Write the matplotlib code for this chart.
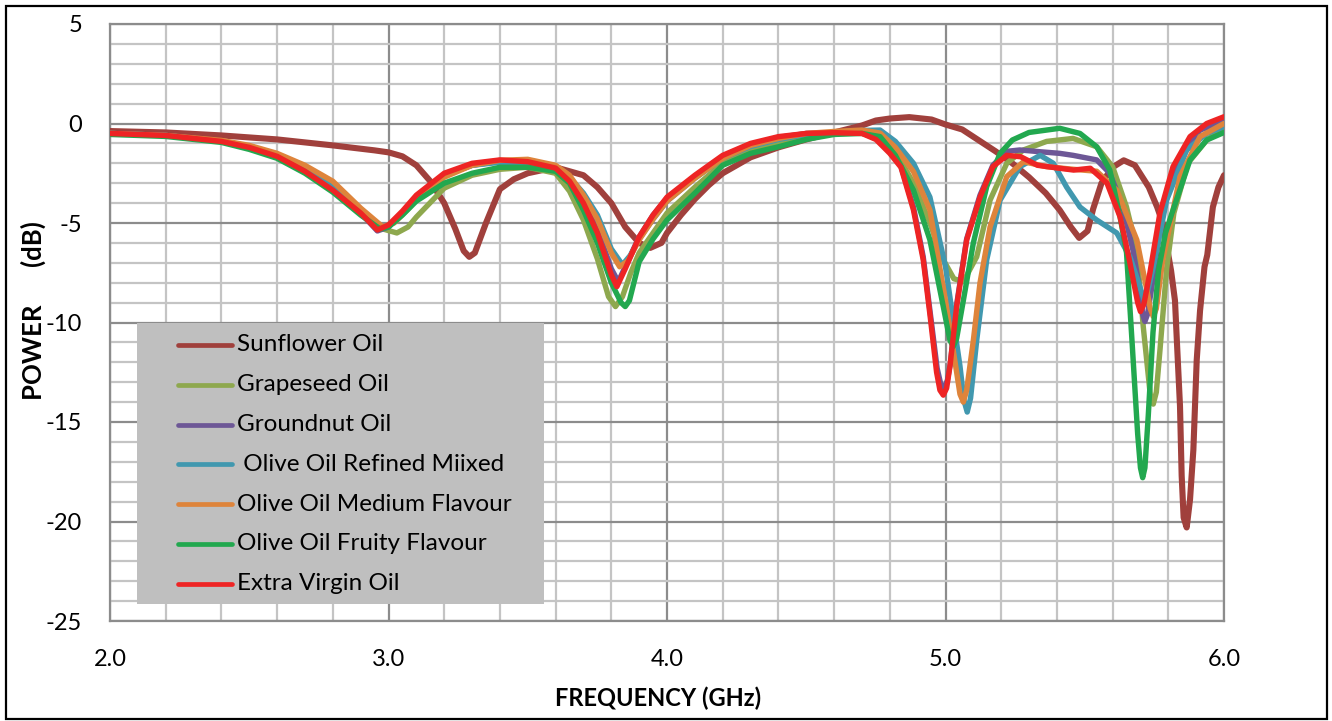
import matplotlib
matplotlib.use('Agg')
import matplotlib.pyplot as plt
from matplotlib.patches import Rectangle
from matplotlib.ticker import MultipleLocator, FormatStrFormatter

plt.rcParams['font.family'] = ['Lato', 'DejaVu Sans']
plt.rcParams['axes.unicode_minus'] = False

# frequency (GHz) / power (dB)
sun_f = [2.0, 2.2, 2.4, 2.6, 2.8, 2.95, 3.0, 3.05, 3.1, 3.15, 3.2, 3.24, 3.27, 3.29, 3.31, 3.35,
         3.4, 3.45, 3.5, 3.6, 3.7, 3.75, 3.8, 3.85, 3.9, 3.94, 3.98, 4.0, 4.05, 4.1, 4.15, 4.2,
         4.3, 4.4, 4.5, 4.6, 4.7, 4.75, 4.8, 4.87, 4.95, 5.0, 5.06, 5.12, 5.18, 5.24, 5.3, 5.36,
         5.41, 5.45, 5.48, 5.51, 5.53, 5.56, 5.6, 5.64, 5.68, 5.73, 5.76, 5.78, 5.81, 5.824, 5.83,
         5.842, 5.848, 5.855, 5.866, 5.878, 5.89, 5.902, 5.914, 5.93, 5.94, 5.96, 5.98, 6.0]
sun_db = [-0.38, -0.45, -0.6, -0.8, -1.1, -1.35, -1.45, -1.65, -2.1, -2.9, -4.0, -5.3, -6.4, -6.7, -6.5, -5.0,
          -3.3, -2.8, -2.5, -2.2, -2.6, -3.2, -4.0, -5.2, -6.0, -6.25, -6.0, -5.5, -4.6, -3.8, -3.1, -2.5,
          -1.7, -1.2, -0.8, -0.45, -0.1, 0.15, 0.25, 0.32, 0.2, -0.05, -0.3, -0.85, -1.4, -2.0, -2.7, -3.5,
          -4.35, -5.2, -5.75, -5.4, -4.3, -3.0, -2.2, -1.85, -2.1, -3.2, -4.2, -5.0, -7.4, -8.9, -10.7,
          -14.2, -17.7, -19.8, -20.3, -18.9, -16.4, -11.9, -9.4, -7.2, -6.6, -4.2, -3.2, -2.6]

grape_f = [2.0, 2.2, 2.4, 2.5, 2.6, 2.7, 2.8, 2.9, 2.98, 3.03, 3.07, 3.1, 3.2, 3.3, 3.4, 3.5, 3.6,
           3.65, 3.7, 3.75, 3.79, 3.815, 3.84, 3.87, 3.9, 3.95, 4.0, 4.1, 4.2, 4.3, 4.4, 4.5, 4.6,
           4.7, 4.765, 4.82, 4.885, 4.944, 4.99, 5.03, 5.064, 5.112, 5.16, 5.22, 5.28, 5.363,
           5.458, 5.543, 5.6, 5.65, 5.687, 5.71, 5.735, 5.746, 5.757, 5.77, 5.794, 5.82, 5.87, 5.94, 6.0]
grape_db = [-0.5, -0.6, -0.9, -1.15, -1.55, -2.2, -3.0, -4.3, -5.3, -5.5, -5.2, -4.7, -3.25, -2.6, -2.3, -2.2, -2.5,
            -3.4, -4.85, -6.8, -8.7, -9.2, -8.7, -7.5, -6.5, -5.5, -4.5, -3.2, -2.0, -1.4, -1.0, -0.7, -0.5,
            -0.45, -0.6, -1.4, -3.0, -5.0, -6.8, -7.8, -7.95, -6.7, -3.85, -2.0, -1.33, -0.9,
            -0.75, -1.17, -2.17, -4.2, -6.35, -10.2, -13.6, -14.1, -13.5, -11.4, -7.3, -4.5, -2.0, -0.8, -0.2]

ground_f = [2.0, 2.2, 2.4, 2.5, 2.6, 2.7, 2.8, 2.9, 2.96, 3.0, 3.05, 3.1, 3.2, 3.3, 3.4, 3.5, 3.6,
            3.65, 3.7, 3.75, 3.8, 3.825, 3.85, 3.9, 3.95, 4.0, 4.1, 4.2, 4.3, 4.4, 4.5, 4.6, 4.7,
            4.75, 4.8, 4.84, 4.885, 4.92, 4.945, 4.97, 4.983, 4.995, 5.007, 5.018, 5.04, 5.076, 5.124, 5.17,
            5.22, 5.267, 5.34, 5.41, 5.458, 5.543, 5.59, 5.637, 5.673, 5.698, 5.708, 5.716, 5.725, 5.74, 5.78,
            5.842, 5.914, 6.0]
ground_db = [-0.5, -0.6, -0.9, -1.2, -1.65, -2.4, -3.35, -4.5, -5.4, -5.2, -4.5, -3.7, -2.6, -2.1, -1.9, -2.0, -2.3,
             -2.9, -3.9, -5.3, -7.3, -7.95, -7.2, -5.7, -4.6, -3.75, -2.65, -1.65, -1.05, -0.7, -0.5, -0.46, -0.48,
             -0.75, -1.45, -2.15, -4.2, -6.7, -9.5, -12.3, -13.1, -13.3, -12.9, -12.0, -9.1, -5.8, -3.6, -2.1,
             -1.4, -1.33, -1.42, -1.5, -1.6, -1.83, -2.5, -4.2, -6.36, -8.37, -9.6, -9.95, -9.6, -8.3, -4.35,
             -1.83, -0.33, 0.1]

refined_f = [2.0, 2.2, 2.4, 2.5, 2.6, 2.7, 2.8, 2.9, 2.97, 3.0, 3.05, 3.1, 3.2, 3.3, 3.4, 3.5, 3.6,
             3.65, 3.7, 3.75, 3.8, 3.84, 3.87, 3.9, 3.95, 4.0, 4.1, 4.2, 4.3, 4.4, 4.5, 4.6, 4.7,
             4.765, 4.82, 4.885, 4.944, 5.0, 5.052, 5.066, 5.078, 5.09, 5.112, 5.148, 5.196, 5.267, 5.34, 5.387,
             5.435, 5.483, 5.543, 5.615, 5.662, 5.698, 5.716, 5.746, 5.794, 5.866, 5.938, 6.0]
refined_db = [-0.5, -0.6, -0.9, -1.2, -1.6, -2.3, -3.2, -4.4, -5.3, -5.15, -4.5, -3.7, -2.6, -2.1, -1.95, -2.0, -2.2,
              -2.7, -3.5, -4.6, -6.3, -7.1, -6.6, -5.8, -4.8, -3.9, -2.75, -1.75, -1.15, -0.8, -0.55, -0.45, -0.35,
              -0.33, -0.9, -2.0, -3.7, -7.2, -12.2, -13.9, -14.5, -13.8, -10.9, -6.85, -3.85, -2.17, -1.6, -2.0,
              -3.2, -4.2, -4.85, -5.5, -6.7, -8.2, -9.0, -7.2, -3.85, -1.33, -0.5, -0.16]

medium_f = [2.0, 2.2, 2.4, 2.5, 2.6, 2.7, 2.8, 2.9, 2.98, 3.02, 3.07, 3.1, 3.2, 3.3, 3.4, 3.5, 3.6,
            3.65, 3.7, 3.75, 3.8, 3.83, 3.86, 3.9, 3.95, 4.0, 4.1, 4.2, 4.3, 4.4, 4.5, 4.6, 4.7,
            4.765, 4.82, 4.885, 4.944, 5.0, 5.04, 5.052, 5.064, 5.076, 5.1, 5.124, 5.16, 5.22, 5.28, 5.363,
            5.458, 5.543, 5.615, 5.687, 5.723, 5.735, 5.746, 5.757, 5.78, 5.842, 5.914, 6.0]
medium_db = [-0.5, -0.6, -0.85, -1.1, -1.5, -2.1, -2.9, -4.25, -5.2, -5.0, -4.3, -3.8, -2.7, -2.1, -1.85, -1.8, -2.1,
             -2.6, -3.6, -4.8, -6.5, -7.2, -6.9, -5.85, -4.8, -3.9, -2.75, -1.75, -1.1, -0.75, -0.5, -0.4, -0.33,
             -0.48, -1.2, -2.42, -4.35, -8.9, -12.5, -13.6, -14.0, -13.4, -10.9, -8.0, -5.2, -2.67, -1.92, -2.17,
             -2.3, -2.4, -3.35, -5.85, -8.37, -9.3, -9.7, -9.3, -6.85, -2.67, -0.66, 0.0]

fruity_f = [2.0, 2.2, 2.4, 2.5, 2.6, 2.7, 2.8, 2.9, 2.97, 3.0, 3.05, 3.1, 3.2, 3.3, 3.4, 3.5, 3.6,
            3.65, 3.7, 3.75, 3.8, 3.835, 3.85, 3.865, 3.9, 3.95, 4.0, 4.1, 4.2, 4.3, 4.4, 4.5, 4.6, 4.7,
            4.765, 4.82, 4.885, 4.944, 4.992, 5.016, 5.028, 5.04, 5.064, 5.1, 5.148, 5.196, 5.24, 5.3, 5.41,
            5.483, 5.543, 5.59, 5.627, 5.65, 5.67, 5.69, 5.7, 5.708, 5.716, 5.728, 5.745, 5.765, 5.79, 5.817,
            5.878, 5.938, 6.0]
fruity_db = [-0.55, -0.65, -0.95, -1.3, -1.75, -2.5, -3.45, -4.6, -5.3, -5.2, -4.6, -3.9, -3.0, -2.5, -2.2, -2.2, -2.4,
             -3.0, -4.35, -6.0, -8.0, -9.0, -9.2, -8.9, -6.95, -5.8, -4.85, -3.5, -2.1, -1.5, -1.17, -0.8, -0.55, -0.5,
             -0.66, -1.6, -3.35, -5.85, -9.2, -10.9, -11.2, -10.8, -8.9, -6.0, -3.17, -1.5, -0.83, -0.45, -0.24,
             -0.5, -1.17, -2.34, -4.7, -6.5, -11.0, -15.6, -17.3, -17.8, -17.3, -14.7, -10.5, -7.36, -5.5, -4.35,
             -1.83, -0.83, -0.45]

virgin_f = [2.0, 2.2, 2.4, 2.5, 2.6, 2.7, 2.8, 2.9, 2.96, 3.0, 3.05, 3.1, 3.2, 3.3, 3.4, 3.5, 3.6,
            3.65, 3.7, 3.75, 3.8, 3.82, 3.85, 3.9, 3.95, 4.0, 4.1, 4.2, 4.3, 4.4, 4.5, 4.6, 4.7,
            4.75, 4.8, 4.84, 4.885, 4.92, 4.945, 4.968, 4.98, 4.992, 5.004, 5.016, 5.04, 5.076, 5.124, 5.17,
            5.22, 5.27, 5.33, 5.41, 5.46, 5.52, 5.58, 5.627, 5.66, 5.69, 5.7, 5.712, 5.734, 5.77, 5.817,
            5.878, 5.938, 6.0]
virgin_db = [-0.5, -0.6, -0.9, -1.2, -1.65, -2.4, -3.35, -4.5, -5.35, -5.1, -4.4, -3.6, -2.5, -2.0, -1.83, -1.92, -2.24,
             -2.9, -4.0, -5.5, -7.6, -8.2, -7.3, -5.7, -4.6, -3.7, -2.6, -1.6, -1.0, -0.66, -0.5, -0.46, -0.5,
             -0.8, -1.5, -2.2, -4.35, -6.85, -9.7, -12.5, -13.4, -13.65, -13.3, -12.2, -9.2, -5.85, -3.7, -2.17,
             -1.6, -1.67, -2.1, -2.25, -2.34, -2.25, -3.0, -4.7, -6.85, -9.0, -9.45, -9.1, -7.5, -4.5, -2.17,
             -0.66, 0.0, 0.34]

names = ['Sunflower Oil', 'Grapeseed Oil', 'Groundnut Oil', ' Olive Oil Refined Miixed',
         'Olive Oil Medium Flavour', 'Olive Oil Fruity Flavour', 'Extra Virgin Oil']
colors = ['#A0403C', '#8EA84E', '#6D5796', '#4198AF', '#DE843B', '#22A84F', '#EE2424']
series = [(sun_f, sun_db), (grape_f, grape_db), (ground_f, ground_db), (refined_f, refined_db),
          (medium_f, medium_db), (fruity_f, fruity_db), (virgin_f, virgin_db)]


def main():
  fig = plt.figure(figsize=(13.32, 7.21), dpi=100)
  ax = fig.add_axes([110/1332, 1 - 621/721, 1114/1332, 597/721])

  for i, ((f, db), c) in enumerate(zip(series, colors)):
    lw = 4.4 if i == 0 else 3.9
    ax.plot(f, db, color=c, lw=lw, solid_joinstyle='round', solid_capstyle='round', zorder=3)

  ax.set_xlim(2.0, 6.0)
  ax.set_ylim(-25, 5)
  ax.xaxis.set_major_locator(MultipleLocator(1.0))
  ax.xaxis.set_minor_locator(MultipleLocator(0.2))
  ax.yaxis.set_major_locator(MultipleLocator(5))
  ax.yaxis.set_minor_locator(MultipleLocator(1))
  ax.xaxis.set_major_formatter(FormatStrFormatter('%.1f'))
  ax.grid(which='minor', color='#c4c4c4', lw=1.6, zorder=0)
  ax.grid(which='major', color='#8c8c8c', lw=1.6, zorder=1)
  ax.set_axisbelow(True)
  ax.tick_params(which='both', length=0)
  ax.tick_params(axis='x', pad=20, labelsize=17)
  ax.tick_params(axis='y', pad=20, labelsize=17)
  for s in ax.spines.values():
    s.set_color('#8c8c8c')
    s.set_linewidth(1.6)

  ax.set_xlabel('FREQUENCY (GHz)', fontsize=17, fontweight='bold', labelpad=12, x=0.492)
  ax.set_ylabel('POWER      (dB)', fontsize=18.5, fontweight='bold', labelpad=0, y=0.52)

  # legend panel
  ax.add_patch(Rectangle(((137-110)/1114, (621-604)/597), (544-137)/1114, (604-323)/597,
                         transform=ax.transAxes, facecolor='#bfbfbf', edgecolor='none', zorder=5))
  for i, (name, c) in enumerate(zip(names, colors)):
    yy = (621 - 345 - 39.8*i) / 597
    ax.plot([0.061, 0.1095], [yy, yy], transform=ax.transAxes, color=c, lw=3.4,
            solid_capstyle='round', zorder=6)
    ax.text(0.114, yy, name, transform=ax.transAxes, fontsize=17.5, va='center', ha='left', zorder=6)

  fig.add_artist(Rectangle((6/1332, 2/721), 1321/1332, 713/721, transform=fig.transFigure,
                           fill=False, edgecolor='black', lw=1.6))
  fig.savefig('out.png', dpi=100)


if __name__ == '__main__':
  main()
